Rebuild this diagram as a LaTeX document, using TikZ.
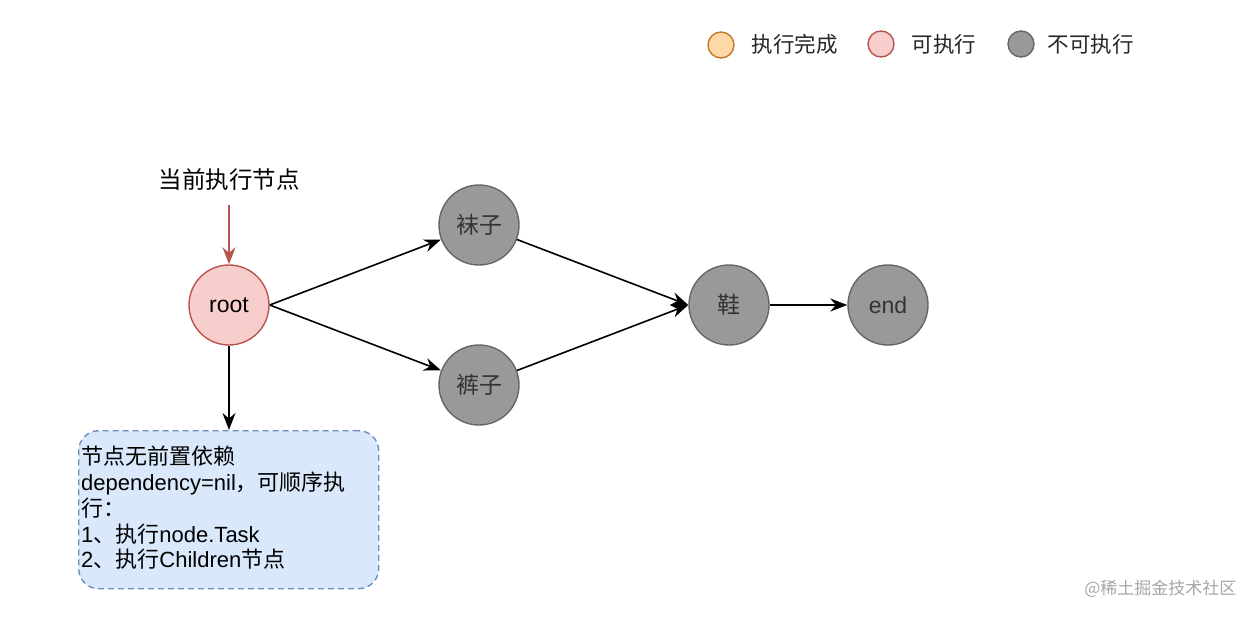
\documentclass[tikz,border=0pt]{standalone}
\usepackage{fontspec}
\setmainfont{Liberation Sans}
\newfontfamily\cjk{Noto Sans CJK SC}
\usetikzlibrary{arrows.meta}
\definecolor{okfill}{HTML}{F8CECC}
\definecolor{okdraw}{HTML}{B85450}
\definecolor{grayfill}{HTML}{999999}
\definecolor{graydraw}{HTML}{666666}
\definecolor{donefill}{HTML}{FFD8A8}
\definecolor{donedraw}{HTML}{C07A2A}
\definecolor{boxfill}{HTML}{DAE8FC}
\definecolor{boxdraw}{HTML}{6C8EBF}
\tikzset{
  x=1pt, y=-1pt,
  circnode/.style={circle, minimum size=80pt, inner sep=0pt, line width=1.4pt, font=\fontsize{23}{26}\selectfont},
  readynode/.style={circnode, fill=okfill, draw=okdraw},
  blocknode/.style={circnode, fill=grayfill, draw=graydraw, text=black!80},
  legdot/.style={circle, minimum size=26pt, inner sep=0pt, line width=1.4pt},
  legtext/.style={anchor=west, font=\cjk\fontsize{21.5}{24}\selectfont, text=black!85},
  conn/.style={-{Stealth[length=17pt,width=13pt]}, line width=1.6pt},
}
\begin{document}
\begin{tikzpicture}
\useasboundingbox (0,0) rectangle (1256,618);
% legend
\node[legdot, fill=donefill, draw=donedraw] (l1) at (721,45) {};
\node[legtext] (t1) at (748,44) {执行完成};
\node[legdot, fill=okfill, draw=okdraw] (l2) at (881,44) {};
\node[legtext] (t2) at (908,44) {可执行};
\node[legdot, fill=grayfill, draw=graydraw] (l3) at (1021,44) {};
\node[legtext] (t3) at (1044,44) {不可执行};
% nodes
\node[readynode] (root) at (229,305) {root};
\node[blocknode] (wa) at (479,225) {\cjk 袜子};
\node[blocknode] (ku) at (479,385) {\cjk 裤子};
\node[blocknode] (xie) at (729,305) {\cjk 鞋};
\node[blocknode] (end) at (888,305) {end};
\node[font=\cjk\fontsize{23.5}{26}\selectfont] (cur) at (229,180) {当前执行节点};
\coordinate (curtop) at (229,205);
% box
\node[draw=boxdraw, fill=boxfill, dash pattern=on 6pt off 4pt, line width=1.4pt, rounded corners=20pt,
      minimum width=300pt, minimum height=158pt, anchor=north west,
      inner sep=0pt] (box) at (78,430) {};
\node[anchor=north west, align=left, inner sep=0pt,
      font=\fontsize{22}{25.8}\selectfont] (boxtext) at (81,446)
  {{\cjk 节点无前置依赖}\\
   dependency=nil{\cjk ，可顺序执}\\
   {\cjk 行：}\\
   1{\cjk 、执行}node.Task\\
   2{\cjk 、执行}Children{\cjk 节点}};
% connectors
\draw[conn, draw=okdraw, fill=okdraw] (curtop) -- (root);
\draw[conn] (root) -- (box.north -| root);
\draw[conn] (root.east) -- (wa);
\draw[conn] (root.east) -- (ku);
\draw[conn] (wa) -- (xie.west);
\draw[conn] (ku) -- (xie.west);
\draw[conn] (xie) -- (end);
% watermark
\node[font=\cjk\fontsize{17}{20}\selectfont, text=black!35, anchor=east] (wm) at (1240,589) {@稀土掘金技术社区};
\end{tikzpicture}
\end{document}
